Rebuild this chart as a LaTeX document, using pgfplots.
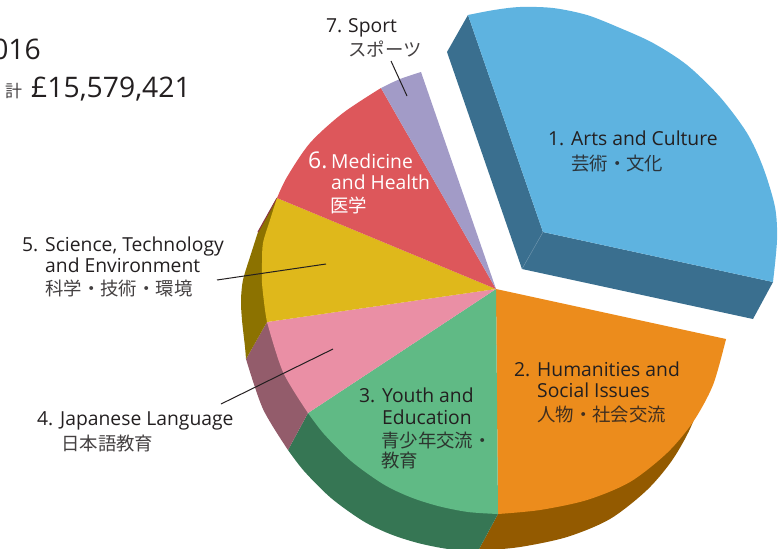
\documentclass[border=0pt]{standalone}
\usepackage{fontspec}
\usepackage{pgfplots}
\pgfplotsset{compat=1.18}
\setmainfont{Open Sans}
\newfontfamily\cjk{Noto Sans CJK JP}
\definecolor{ink}{HTML}{231F20}
\definecolor{cBlue}{HTML}{5EB3E0}\definecolor{sBlue}{HTML}{3A6F8F}
\definecolor{cOrange}{HTML}{EC8C1C}\definecolor{sOrange}{HTML}{935A00}
\definecolor{cGreen}{HTML}{60BA85}\definecolor{sGreen}{HTML}{367654}
\definecolor{cPink}{HTML}{EA8FA5}\definecolor{sPink}{HTML}{935C6B}
\definecolor{cYellow}{HTML}{DFB81B}\definecolor{sYellow}{HTML}{8C7200}
\definecolor{cRed}{HTML}{DD575B}\definecolor{sRed}{HTML}{8B3540}
\definecolor{cPurple}{HTML}{A29BC7}
\newcommand{\en}{\fontsize{19.3}{19.3}\selectfont}
\newcommand{\jp}{\cjk\fontsize{18.4}{18.4}\selectfont}
\begin{document}
\begin{tikzpicture}[lab/.style={anchor=base west,inner sep=0pt,text=ink},jpl/.style={anchor=base west,inner sep=0pt,text=ink,text opacity=.85}]
\path[use as bounding box] (0,0) rectangle (780pt,549pt);
\clip (0,0) rectangle (780pt,549pt);
\begin{axis}[at={(0,0)},anchor=south west,scale only axis,width=780pt,height=549pt,
  xmin=0,xmax=780,ymin=0,ymax=549,y dir=reverse,hide axis,clip=true,
  every axis plot/.append style={no marks,draw=none,forget plot}]
% side faces
\addplot[fill=sBlue] coordinates {(468,15)(447,52)(522,269)(753,319)(773,282)(543,232)} -- cycle;
\addplot[fill=sOrange,smooth] coordinates {(706,376)(693,422)(673,459)(647,490)(610,519)(567,537)(520,547)(478,551)} -- (axis cs:498,514) -- (axis cs:726,339) -- cycle;
\addplot[fill=sGreen,smooth] coordinates {(478,551)(448,549)(418,543)(390,534)(363,521)(331,498)(304,471)(288,450)} -- (axis cs:308,413) -- (axis cs:498,514) -- cycle;
\addplot[fill=sPink,smooth] coordinates {(288,450)(263,409)(246,359)} -- (axis cs:267,322) -- (axis cs:308,413) -- cycle;
\addplot[fill=sYellow,smooth] coordinates {(246,359)(245,347)(242,320)(241,300)(243,280)(250,257)(258,232)} -- (axis cs:277,198) -- (axis cs:267,322) -- cycle;
\addplot[draw=sRed,line width=1pt] coordinates {(277,198)(258,232)};
% top faces
\addplot[fill=cBlue,smooth] coordinates {(468,15)(494,10)(520,7)(553,8)(587,15)(620,28)(653,43)(687,65)(720,97)(747,133)(763,167)(775,207)(777,240)(773,282)} -- (axis cs:543,232) -- cycle;
\addplot[fill=cOrange,smooth] coordinates {(726,339)(713,385)(693,422)(667,453)(630,482)(587,500)(540,510)(498,514)} -- (axis cs:496,289) -- cycle;
\addplot[fill=cGreen,smooth] coordinates {(498,514)(468,512)(438,506)(410,497)(383,484)(351,461)(324,434)(308,413)} -- (axis cs:496,289) -- cycle;
\addplot[fill=cPink,smooth] coordinates {(308,413)(283,372)(267,322)} -- (axis cs:496,289) -- cycle;
\addplot[fill=cYellow,smooth] coordinates {(267,322)(265,310)(262,283)(262,263)(263,243)(270,220)(277,198)} -- (axis cs:496,289) -- cycle;
\addplot[fill=cRed,smooth] coordinates {(277,198)(287,177)(310,143)(343,113)(381,88)} -- (axis cs:496,289) -- cycle;
\addplot[fill=cPurple,smooth] coordinates {(381,88)(400,79)(421,72)} -- (axis cs:496,289) -- cycle;
\addplot[draw=sBlue!70!white,line width=.4pt] coordinates {(543,232)(522,269)};
% leaders
\addplot[draw=ink,line width=1pt] coordinates {(391,61)(407,96)};
\addplot[draw=ink,line width=1pt] coordinates {(217,280)(326,264)};
\addplot[draw=ink,line width=1pt] coordinates {(221,404)(333,349)};
% title
\node[lab,anchor=base east] at (axis cs:41,59) {\fontsize{28.3}{28.3}\selectfont 2016};
\node[lab,text=ink,text opacity=.85] at (axis cs:5,97) {\cjk\fontsize{17}{17}\selectfont 計};
\node[lab] at (axis cs:31,97) {\fontsize{28.3}{28.3}\selectfont £15,579,421};
% labels
\node[lab] at (axis cs:548,145) {\en 1.};
\node[lab] at (axis cs:571,145) {\en Arts and Culture};
\node[jpl] at (axis cs:571,170) {\jp 芸術・文化};
\node[lab] at (axis cs:514,376) {\en 2.};
\node[lab] at (axis cs:537,376) {\en Humanities and};
\node[lab] at (axis cs:537,397) {\en Social Issues};
\node[jpl] at (axis cs:537,421) {\jp 人物・社会交流};
\node[lab] at (axis cs:359,402) {\en 3.};
\node[lab] at (axis cs:382,402) {\en Youth and};
\node[lab] at (axis cs:382,424) {\en Education};
\node[jpl] at (axis cs:381,447) {\jp 青少年交流・};
\node[jpl] at (axis cs:381,467) {\jp 教育};
\node[lab] at (axis cs:37,425) {\en 4.};
\node[lab] at (axis cs:60,425) {\en Japanese Language};
\node[jpl] at (axis cs:61,450) {\jp 日本語教育};
\node[lab] at (axis cs:22,251) {\en 5.};
\node[lab] at (axis cs:45,251) {\en Science, Technology};
\node[lab] at (axis cs:45,272) {\en and Environment};
\node[jpl] at (axis cs:45,295) {\jp 科学・技術・環境};
\node[lab,text=white] at (axis cs:308,168) {\fontsize{23}{23}\selectfont 6.};
\node[lab,text=white] at (axis cs:331,168) {\en Medicine};
\node[lab,text=white] at (axis cs:331,189) {\en and Health};
\node[lab,text=white] at (axis cs:330,212) {\jp 医学};
\node[lab] at (axis cs:326,32) {\en 7.};
\node[lab] at (axis cs:348,32) {\en Sport};
\node[jpl] at (axis cs:348,56) {\jp スポーツ};
\end{axis}
\end{tikzpicture}
\end{document}
